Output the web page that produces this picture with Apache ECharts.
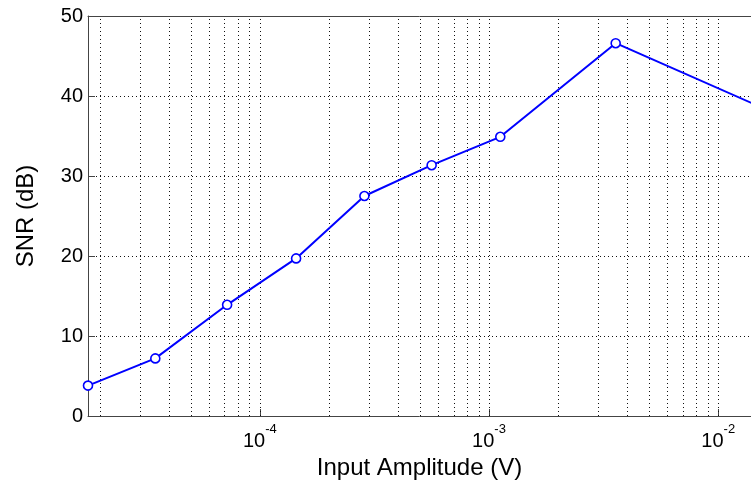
<!DOCTYPE html>
<html>
<head>
<meta charset="utf-8">
<script src="https://cdn.jsdelivr.net/npm/echarts@6/dist/echarts.min.js"></script>
<style>
  html, body { margin: 0; padding: 0; background: #fff; }
  #snr_chart { width: 751px; height: 482px; }
</style>
</head>
<body>
<div id="snr_chart"></div>
<script>
const amplitude = [1.78e-5, 3.5e-5, 7.2e-5, 1.44e-4, 2.86e-4, 5.62e-4, 1.12e-3, 3.57e-3, 1.43e-2];
const snr = [3.8, 7.2, 13.9, 19.7, 27.5, 31.35, 34.9, 46.6, 39.0];

// visible x range (right side of the axes is cut off)
const xMin = 1.78e-5;
const xMax = 1.39e-2;

// log grid lines (2..9 per decade plus the decades)
const gridX = [];
for (let e = -5; e <= -2; e++) {
  for (let m = 1; m <= 9; m++) {
    let v = m * Math.pow(10, e);
    if (v > xMin * 1.01 && v < xMax) gridX.push(v);
  }
}
const decades = [1e-4, 1e-3, 1e-2];

const font = "Liberation Sans, Arial, Helvetica, sans-serif";
const dots = { color: "#111", width: 1, type: [1, 3] };

function initSnrChart() {
  let chart = echarts.init(document.getElementById("snr_chart"), null, { renderer: "canvas" });

  chart.setOption({
    backgroundColor: "#fff",
    animation: false,
    grid: { left: 88, right: 0, top: 16, bottom: 66, outerBoundsMode: "none", containLabel: false },
    xAxis: [
      {
        type: "log",
        logBase: 10,
        min: xMin,
        max: xMax,
        name: "Input Amplitude (V)",
        nameLocation: "middle",
        nameGap: 30,
        nameTextStyle: { fontFamily: font, fontSize: 24, color: "#000" },
        axisLine: { show: true, lineStyle: { color: "#444", width: 1 } },
        axisTick: { show: true, inside: true, length: 7, lineStyle: { color: "#444" } },
        splitLine: { show: false },
        axisLabel: {
          margin: 7,
          showMinLabel: false,
          showMaxLabel: false,
          formatter: function (v) {
            for (let d of decades) {
              if (Math.abs(v - d) / d < 1e-6) {
                return "{b|10}{s|" + Math.round(Math.log10(d)) + "}";
              }
            }
            return "";
          },
          rich: {
            b: { fontFamily: font, fontSize: 20, color: "#000", verticalAlign: "bottom", lineHeight: 28 },
            s: { fontFamily: font, fontSize: 13, color: "#000", verticalAlign: "top", lineHeight: 28 }
          }
        }
      },
      {
        type: "log",
        position: "top",
        min: xMin,
        max: xMax,
        axisLine: { show: true, lineStyle: { color: "#444", width: 1 } },
        axisTick: { show: false },
        axisLabel: { show: false },
        splitLine: { show: false }
      }
    ],
    yAxis: {
      type: "value",
      min: 0,
      max: 50,
      interval: 10,
      name: "SNR (dB)",
      nameLocation: "middle",
      nameGap: 50,
      nameTextStyle: { fontFamily: font, fontSize: 24, color: "#000" },
      axisLine: { show: true, lineStyle: { color: "#444", width: 1 } },
      axisTick: { show: true, inside: true, length: 7, lineStyle: { color: "#444" } },
      axisLabel: { fontFamily: font, fontSize: 20, color: "#000", margin: 5 },
      splitLine: { show: true, lineStyle: dots }
    },
    series: [
      {
        name: "grid",
        type: "custom",
        silent: true,
        z: 1,
        clip: false,
        data: gridX.map(function (v) { return [v, 0]; }),
        renderItem: function (params, api) {
          let p0 = api.coord([api.value(0), 0]);
          let p1 = api.coord([api.value(0), 50]);
          return {
            type: "line",
            shape: { x1: Math.round(p0[0]) + 0.5, y1: p0[1], x2: Math.round(p1[0]) + 0.5, y2: p1[1] },
            style: { stroke: "#111", lineWidth: 1, lineDash: [1, 3] }
          };
        }
      },
      {
        name: "SNR",
        type: "line",
        z: 3,
        data: amplitude.map(function (a, i) { return [a, snr[i]]; }),
        symbol: "circle",
        symbolSize: 9,
        showAllSymbol: true,
        lineStyle: { color: "#0000ff", width: 2 },
        itemStyle: { color: "#fff", borderColor: "#0000ff", borderWidth: 1.6 }
      }
    ]
  });
}

initSnrChart();
</script>
</body>
</html>
